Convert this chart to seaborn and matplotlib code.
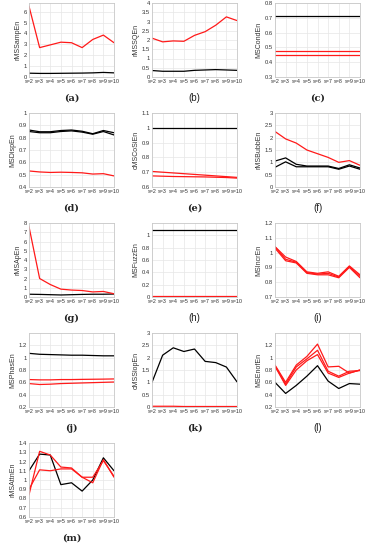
import numpy as np
import pandas as pd
import matplotlib
matplotlib.use("Agg")
import matplotlib.pyplot as plt
import seaborn as sns

# ============================
# --- DATA ---
# ============================

SCALES = [2, 3, 4, 5, 6, 7, 8, 9, 10]
SCALE_LABELS = [f"s={s}" for s in SCALES]

# (a) rMSSampEn
a_red = [6.5, 2.7, 2.95, 3.2, 3.15, 2.7, 3.45, 3.85, 3.15]
a_black = [0.35, 0.33, 0.33, 0.34, 0.35, 0.36, 0.38, 0.42, 0.38]

# (b) rMSSQEn
b_red = [2.1, 1.9, 1.95, 1.93, 2.25, 2.45, 2.8, 3.25, 3.05]
b_black = [0.35, 0.31, 0.31, 0.31, 0.36, 0.38, 0.4, 0.38, 0.36]

# (c) MSCondEn
c_black = [0.71, 0.71, 0.71, 0.71, 0.71, 0.71, 0.71, 0.71, 0.71]
c_red1 = [0.475, 0.475, 0.475, 0.475, 0.475, 0.475, 0.475, 0.475, 0.475]
c_red2 = [0.447, 0.447, 0.447, 0.447, 0.447, 0.447, 0.447, 0.447, 0.447]

# (d) MSDispEn
d_black1 = [0.862, 0.848, 0.848, 0.858, 0.862, 0.852, 0.832, 0.858, 0.84]
d_black2 = [0.85, 0.84, 0.84, 0.85, 0.855, 0.845, 0.828, 0.85, 0.822]
d_red = [0.53, 0.522, 0.518, 0.52, 0.518, 0.515, 0.505, 0.508, 0.49]

# (e) cMSCoSiEn
e_black = [1.0, 1.0, 1.0, 1.0, 1.0, 1.0, 1.0, 1.0, 1.0]
e_red1 = [0.705, 0.70, 0.695, 0.69, 0.685, 0.68, 0.675, 0.67, 0.665]
e_red2 = [0.675, 0.673, 0.671, 0.67, 0.669, 0.668, 0.666, 0.664, 0.66]

# (f) rMSBubbEn
f_red = [2.25, 1.95, 1.78, 1.5, 1.35, 1.2, 1.0, 1.07, 0.88]
f_black1 = [1.05, 1.18, 0.92, 0.85, 0.85, 0.85, 0.75, 0.9, 0.77]
f_black2 = [0.8, 1.02, 0.82, 0.82, 0.82, 0.82, 0.72, 0.85, 0.72]

# (g) rMSApEn
g_red = [7.6, 2.0, 1.35, 0.85, 0.75, 0.7, 0.55, 0.6, 0.35]
g_black = [0.3, 0.28, 0.25, 0.22, 0.25, 0.28, 0.3, 0.3, 0.32]

# (h) MSFuzzEn
h_black = [1.08, 1.08, 1.08, 1.08, 1.08, 1.08, 1.08, 1.08, 1.08]
h_red = [0.02, 0.02, 0.02, 0.02, 0.02, 0.02, 0.02, 0.02, 0.02]

# (i) MSIncrEn
i_red1 = [1.04, 0.97, 0.94, 0.87, 0.86, 0.87, 0.84, 0.91, 0.85]
i_red2 = [1.04, 0.955, 0.935, 0.865, 0.855, 0.86, 0.835, 0.905, 0.84]
i_red3 = [1.03, 0.945, 0.93, 0.86, 0.85, 0.85, 0.83, 0.9, 0.83]

# (j) MSPhasEn
j_black = [1.07, 1.055, 1.05, 1.045, 1.04, 1.04, 1.035, 1.03, 1.03]
j_red1 = [0.645, 0.64, 0.64, 0.645, 0.645, 0.648, 0.65, 0.652, 0.655]
j_red2 = [0.58, 0.565, 0.57, 0.58, 0.585, 0.59, 0.595, 0.6, 0.605]

# (k) cMSSlopEn
k_black = [1.0, 2.1, 2.4, 2.25, 2.35, 1.85, 1.8, 1.62, 1.02]
k_red = [0.03, 0.03, 0.03, 0.02, 0.02, 0.02, 0.02, 0.02, 0.02]

# (l) MSEnofEn
l_black = [0.6, 0.42, 0.55, 0.7, 0.87, 0.62, 0.5, 0.58, 0.57]
l_red1 = [0.88, 0.6, 0.88, 1.02, 1.22, 0.85, 0.86, 0.75, 0.8]
l_red2 = [0.87, 0.57, 0.85, 0.98, 1.12, 0.78, 0.7, 0.78, 0.79]
l_red3 = [0.86, 0.55, 0.8, 0.95, 1.05, 0.75, 0.68, 0.75, 0.8]

# (m) rMSAttnEn
m_black = [1.1, 1.28, 1.27, 0.95, 0.97, 0.88, 1.0, 1.24, 1.1]
m_red1 = [0.84, 1.31, 1.27, 1.14, 1.13, 1.03, 0.97, 1.22, 1.03]
m_red2 = [0.9, 1.11, 1.1, 1.12, 1.12, 1.03, 1.03, 1.21, 1.04]

PANELS = [
    ("(a)", "rMSSampEn", (0, 6.8), [0, 1, 2, 3, 4, 5, 6],
     {"k1": a_black, "r1": a_red}, "serif"),
    ("(b)", "rMSSQEn", (0, 4), [0, 0.5, 1, 1.5, 2, 2.5, 3, 3.5, 4],
     {"k1": b_black, "r1": b_red}, "sans"),
    ("(c)", "MSCondEn", (0.3, 0.8), [0.3, 0.4, 0.5, 0.6, 0.7, 0.8],
     {"k1": c_black, "r1": c_red1, "r2": c_red2}, "serif"),
    ("(d)", "MSDispEn", (0.4, 1.0), [0.4, 0.5, 0.6, 0.7, 0.8, 0.9, 1],
     {"k1": d_black1, "k2": d_black2, "r1": d_red}, "serif"),
    ("(e)", "cMSCoSiEn", (0.6, 1.1), [0.6, 0.7, 0.8, 0.9, 1, 1.1],
     {"k1": e_black, "r1": e_red1, "r2": e_red2}, "serif"),
    ("(f)", "rMSBubbEn", (0, 3), [0, 0.5, 1, 1.5, 2, 2.5, 3],
     {"k1": f_black1, "k2": f_black2, "r1": f_red}, "sans"),
    ("(g)", "rMSApEn", (0, 8), [0, 1, 2, 3, 4, 5, 6, 7, 8],
     {"k1": g_black, "r1": g_red}, "serif"),
    ("(h)", "MSFuzzEn", (0, 1.2), [0, 0.2, 0.4, 0.6, 0.8, 1],
     {"k1": h_black, "r1": h_red}, "sans"),
    ("(i)", "MSIncrEn", (0.7, 1.2), [0.7, 0.8, 0.9, 1, 1.1, 1.2],
     {"r1": i_red1, "r2": i_red2, "r3": i_red3}, "sans"),
    ("(j)", "MSPhasEn", (0.2, 1.4), [0.2, 0.4, 0.6, 0.8, 1, 1.2],
     {"k1": j_black, "r1": j_red1, "r2": j_red2}, "serif"),
    ("(k)", "cMSSlopEn", (0, 3), [0, 0.5, 1, 1.5, 2, 2.5, 3],
     {"k1": k_black, "r1": k_red}, "serif"),
    ("(l)", "MSEnofEn", (0.2, 1.4), [0.2, 0.4, 0.6, 0.8, 1, 1.2],
     {"k1": l_black, "r1": l_red1, "r2": l_red2, "r3": l_red3}, "sans"),
    ("(m)", "rMSAttnEn", (0.6, 1.4), [0.6, 0.7, 0.8, 0.9, 1, 1.1, 1.2, 1.3, 1.4],
     {"k1": m_black, "r1": m_red1, "r2": m_red2}, "serif"),
]

# ============================
# --- FIGURE ---
# ============================

W, H = 372, 550
COL_LEFT = [29, 152, 275]
AX_W = 85
ROW_TOP = [3, 113, 223, 333, 443]
AX_H = 74

sns.set_theme(style="whitegrid")
plt.rcParams["font.family"] = ["Liberation Sans", "DejaVu Sans"]

fig = plt.figure(figsize=(W / 100, H / 100), dpi=100)


def fmt(v):
    return f"{v:g}"


for idx, (tag, ylab, ylim, yticks, lines, tagfont) in enumerate(PANELS):
    r, c = divmod(idx, 3)
    left = COL_LEFT[c] / W
    bottom = 1 - (ROW_TOP[r] + AX_H) / H
    ax = fig.add_axes([left, bottom, AX_W / W, AX_H / H])

    df = pd.DataFrame(
        [(name, s, v) for name, vals in lines.items() for s, v in zip(SCALES, vals)],
        columns=["line", "scale", "value"],
    )
    pal = {name: ("black" if name.startswith("k") else "#ff1a1a") for name in lines}
    # black first, red on top
    order = [n for n in lines if n.startswith("k")] + [n for n in lines if n.startswith("r")]
    sns.lineplot(data=df, x="scale", y="value", hue="line", hue_order=order,
                 palette=pal, legend=False, linewidth=0.9, ax=ax, estimator=None)

    ax.set_xlim(2, 10)
    ax.set_ylim(*ylim)
    ax.set_xticks(SCALES)
    ax.set_xticklabels(SCALE_LABELS)
    ax.set_yticks(yticks)
    ax.set_yticklabels([fmt(v) for v in yticks])
    ax.tick_params(axis="x", labelsize=3.9, pad=1.5, length=0, colors="#333333")
    ax.tick_params(axis="y", labelsize=4.2, pad=1.5, length=0, colors="#333333")
    ax.set_xlabel("")
    ax.set_ylabel(ylab, fontsize=5, labelpad=1.5, color="#333333")
    ax.grid(True, color="#e6e6e6", linewidth=0.5)
    for sp in ax.spines.values():
        sp.set_color("#c8c8c8")
        sp.set_linewidth(0.6)

    family = ["DejaVu Serif"] if tagfont == "serif" else ["Liberation Sans"]
    fig.text(left + AX_W / W / 2, 1 - (ROW_TOP[r] + 95) / H, tag,
             ha="center", va="center", fontsize=7,
             fontweight="bold" if tagfont == "serif" else "normal",
             family=family, color="#222222")

fig.savefig("out.png", dpi=100)
